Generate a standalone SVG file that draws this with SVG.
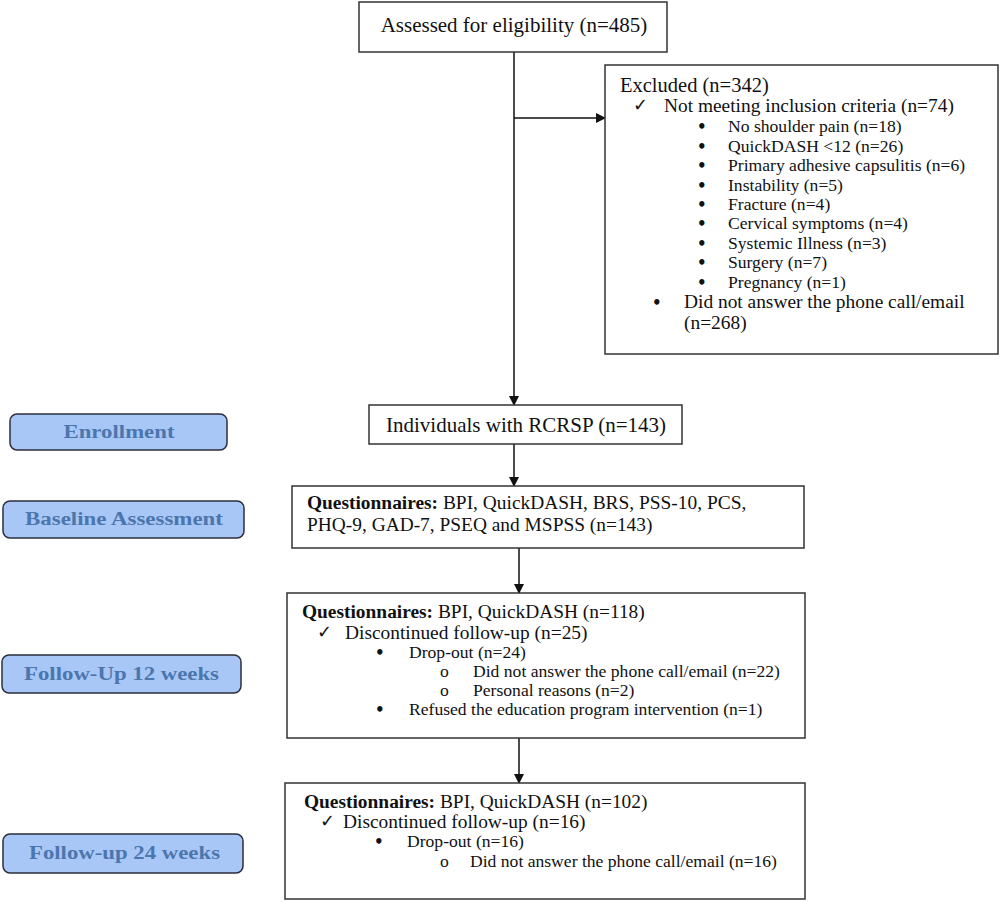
<svg xmlns="http://www.w3.org/2000/svg" width="1000" height="902" viewBox="0 0 1000 902">
<defs>
<marker id="ah" markerWidth="10" markerHeight="10" refX="9" refY="5" orient="auto" markerUnits="userSpaceOnUse">
<path d="M0,0 L10,5 L0,10 Z" fill="#111"/>
</marker>
<style>
.box{fill:#fff;stroke:#333;stroke-width:1.5}
.lab{fill:#a8c6f6;stroke:#2b2f3a;stroke-width:1.5}
.lt{font-family:"Liberation Serif","Times New Roman",serif;font-weight:bold;font-size:18px;fill:#4b76ad;text-anchor:middle}
.t{font-family:"Liberation Serif","Times New Roman",serif;font-size:19.4px;fill:#111}
.big{font-size:21px}
.s{font-family:"Liberation Serif","Times New Roman",serif;font-size:17.6px;fill:#111}
.bu{font-family:"DejaVu Sans",sans-serif;font-size:15px;font-weight:bold;fill:#111}
.b{font-weight:bold}
.ln{stroke:#111;stroke-width:1.5;fill:none}
</style>
</defs>
<rect width="1000" height="902" fill="#fff"/>

<g id="connectors">
<line class="ln" x1="514" y1="52" x2="514" y2="405" marker-end="url(#ah)"/>
<line class="ln" x1="514" y1="118" x2="605" y2="118" marker-end="url(#ah)"/>
<line class="ln" x1="514" y1="444" x2="514" y2="486" marker-end="url(#ah)"/>
<line class="ln" x1="519" y1="548" x2="519" y2="593" marker-end="url(#ah)"/>
<line class="ln" x1="519" y1="738" x2="519" y2="783" marker-end="url(#ah)"/>
</g>

<g id="assessed">
<rect class="box" x="359" y="2" width="308" height="50"/>
<text class="t big" x="514" y="32" text-anchor="middle">Assessed for eligibility (n=485)</text>
</g>

<g id="excluded">
<rect class="box" x="605" y="65" width="393" height="289"/>
<text class="t" x="620" y="92" style="font-size:20.5px">Excluded (n=342)</text>
<text class="s" x="633" y="111">✓</text>
<text class="t" x="664" y="112">Not meeting inclusion criteria (n=74)</text>
<g class="bu">
<text x="697" y="132">•</text>
<text x="697" y="152">•</text>
<text x="697" y="171">•</text>
<text x="697" y="191">•</text>
<text x="697" y="210">•</text>
<text x="697" y="229">•</text>
<text x="697" y="249">•</text>
<text x="697" y="268">•</text>
<text x="697" y="288">•</text>
<text x="652" y="308">•</text>
</g>
<g class="s">
<text x="728" y="132">No shoulder pain (n=18)</text>
<text x="728" y="152">QuickDASH &lt;12 (n=26)</text>
<text x="728" y="171">Primary adhesive capsulitis (n=6)</text>
<text x="728" y="191">Instability (n=5)</text>
<text x="728" y="210">Fracture (n=4)</text>
<text x="728" y="229">Cervical symptoms (n=4)</text>
<text x="728" y="249">Systemic Illness (n=3)</text>
<text x="728" y="268">Surgery (n=7)</text>
<text x="728" y="288">Pregnancy (n=1)</text>
</g>
<text class="t" x="684" y="308">Did not answer the phone call/email</text>
<text class="t" x="684" y="329">(n=268)</text>
</g>

<g id="enrolled">
<rect class="box" x="369" y="405" width="313" height="39"/>
<text class="t big" x="526" y="432" text-anchor="middle">Individuals with RCRSP (n=143)</text>
</g>

<g id="baseline">
<rect class="box" x="292" y="486" width="512" height="62"/>
<text class="t" x="307" y="509"><tspan class="b">Questionnaires:</tspan> BPI, QuickDASH, BRS, PSS-10, PCS,</text>
<text class="t" x="307" y="531">PHQ-9, GAD-7, PSEQ and MSPSS (n=143)</text>
</g>

<g id="followup12">
<rect class="box" x="287" y="593" width="518" height="145"/>
<text class="t" x="302" y="618"><tspan class="b">Questionnaires:</tspan> BPI, QuickDASH (n=118)</text>
<text class="s" x="317" y="638">✓</text>
<text class="t" x="345" y="639">Discontinued follow-up (n=25)</text>
<g class="bu">
<text x="375" y="658">•</text>
<text x="375" y="715">•</text>
</g>
<g class="s">
<text x="409" y="658">Drop-out (n=24)</text>
<text x="440" y="677">o</text><text x="473" y="677">Did not answer the phone call/email (n=22)</text>
<text x="440" y="696">o</text><text x="473" y="696">Personal reasons (n=2)</text>
<text x="409" y="715">Refused the education program intervention (n=1)</text>
</g>
</g>

<g id="followup24">
<rect class="box" x="285" y="783" width="520" height="116"/>
<text class="t" x="304" y="808"><tspan class="b">Questionnaires:</tspan> BPI, QuickDASH (n=102)</text>
<text class="s" x="320" y="827">✓</text>
<text class="t" x="343" y="828">Discontinued follow-up (n=16)</text>
<g class="bu">
<text x="374" y="847">•</text>
</g>
<g class="s">
<text x="407" y="847">Drop-out (n=16)</text>
<text x="440" y="867">o</text><text x="470" y="867">Did not answer the phone call/email (n=16)</text>
</g>
</g>

<g id="lab-enrollment">
<rect class="lab" x="10" y="414" width="217" height="36" rx="7"/>
<text class="lt" x="119" y="438" textLength="111" lengthAdjust="spacingAndGlyphs">Enrollment</text>
</g>
<g id="lab-baseline">
<rect class="lab" x="3" y="501" width="241" height="37" rx="7"/>
<text class="lt" x="124" y="525" textLength="198" lengthAdjust="spacingAndGlyphs">Baseline Assessment</text>
</g>
<g id="lab-fu12">
<rect class="lab" x="2" y="655" width="239" height="38" rx="7"/>
<text class="lt" x="121.5" y="680" textLength="195" lengthAdjust="spacingAndGlyphs">Follow-Up 12 weeks</text>
</g>
<g id="lab-fu24">
<rect class="lab" x="3" y="834" width="240" height="39" rx="7"/>
<text class="lt" x="124.5" y="859" textLength="191" lengthAdjust="spacingAndGlyphs">Follow-up 24 weeks</text>
</g>
</svg>
